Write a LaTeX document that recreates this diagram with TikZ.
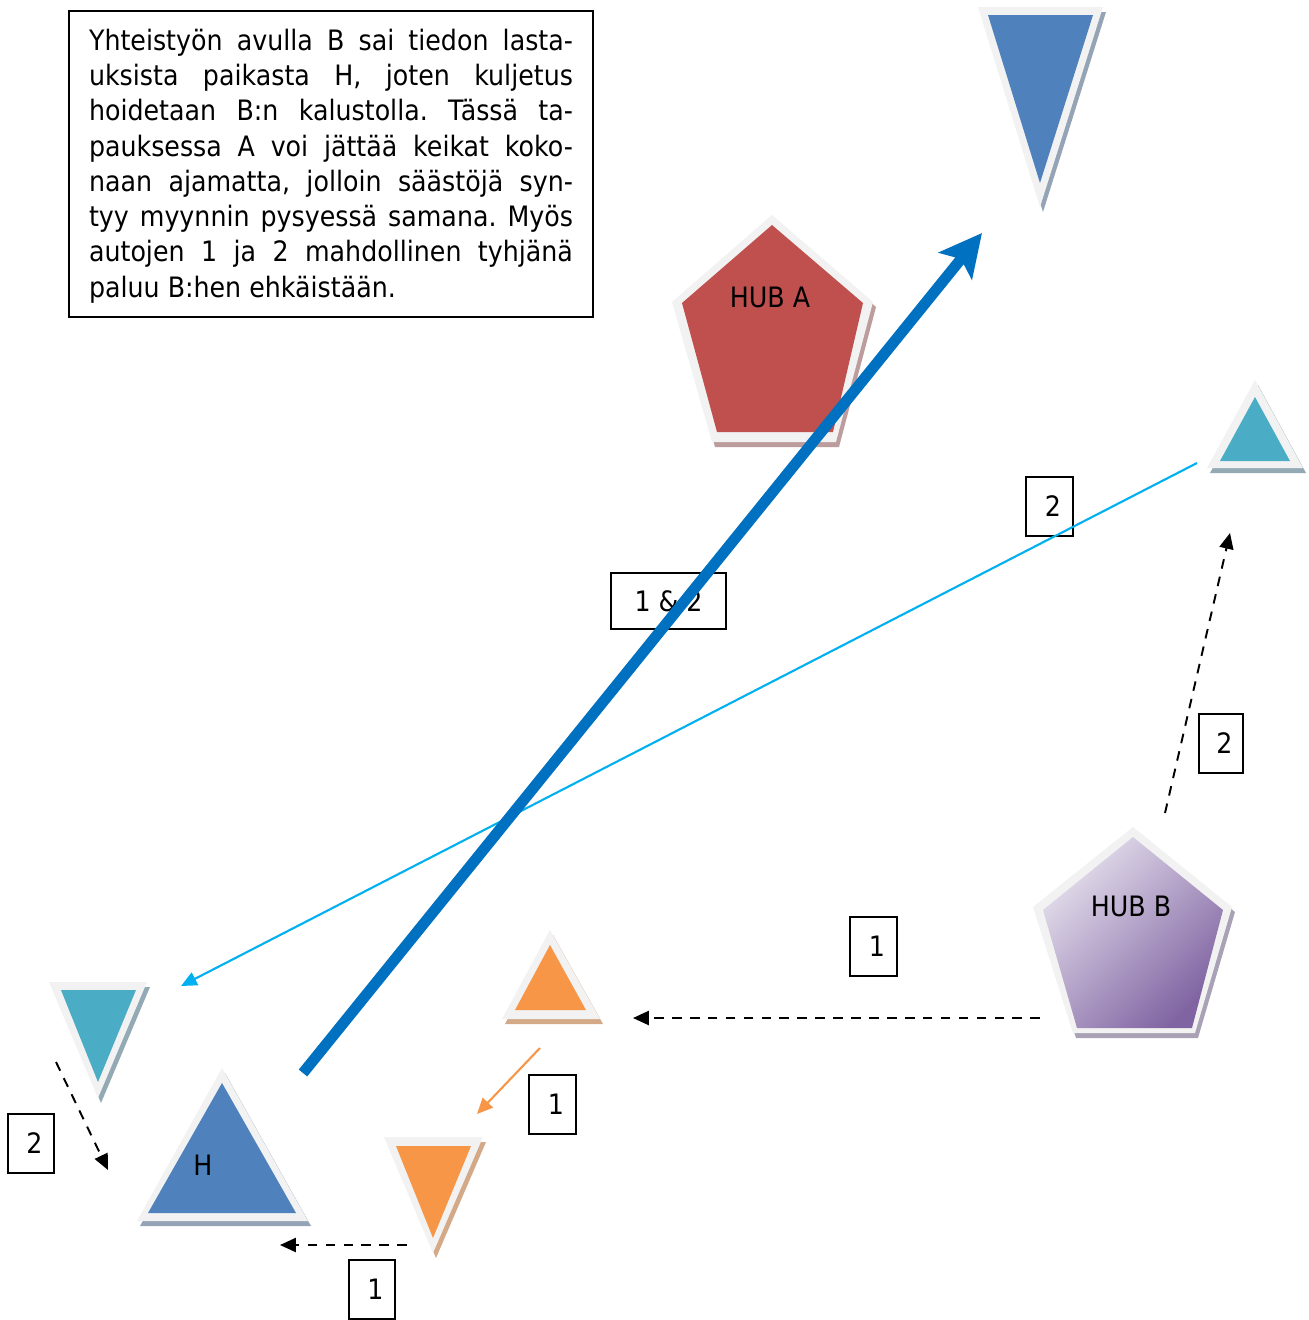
\documentclass[tikz,border=0pt]{standalone}
\usepackage{fontspec}
\setmainfont{DejaVu Sans}[FakeStretch=0.9]
\usetikzlibrary{arrows.meta}
\definecolor{rimc}{HTML}{F2F2F2}
\definecolor{blueA}{HTML}{4F81BD}
\definecolor{blueSh}{HTML}{94A4B6}
\definecolor{redA}{HTML}{C0504D}
\definecolor{redSh}{HTML}{BC9C9C}
\definecolor{tealA}{HTML}{4BACC6}
\definecolor{tealSh}{HTML}{93AAB4}
\definecolor{orA}{HTML}{F79646}
\definecolor{orSh}{HTML}{D3A988}
\definecolor{purL}{HTML}{E4DEEC}
\definecolor{purD}{HTML}{8064A2}
\definecolor{purSh}{HTML}{A9A2B6}
\definecolor{arrBlue}{HTML}{0070C0}
\definecolor{arrCyan}{HTML}{00B0F0}
\newcommand\polyshape[4]{%
  \fill[#1, shift={(3,5)}] #3 -- cycle;
  \fill[rimc] #3 -- cycle;
  \fill[#2] #4 -- cycle;
}
\newcommand\jline[1]{\hbox to 9.68cm{#1}}
\tikzset{
  lbl/.style={draw=black, line width=1pt, fill=white, font=\fontsize{16}{18}\selectfont, inner sep=0pt},
  dasharrow/.style={line width=1.1pt, dash pattern=on 5.5pt off 4.7pt, -{Triangle[length=9pt,width=8pt]}},
  shapetext/.style={font=\fontsize{16}{18}\selectfont, inner sep=0pt}
}
\begin{document}
\begin{tikzpicture}[x=0.02cm,y=-0.02cm]
\useasboundingbox (0,0) rectangle (1309,1320);
\fill[white] (0,0) rectangle (1309,1320);

% info box
\draw[line width=1.1pt] (69,11) rectangle (593,317);
\node[inner sep=0pt, font=\fontsize{16}{20.07}\selectfont] (info) at (331,166) {\vbox{%
\jline{Yhteistyön\hfil avulla\hfil B\hfil sai\hfil tiedon\hfil lasta-}
\jline{uksista\hfil paikasta\hfil H,\hfil joten\hfil kuljetus}
\jline{hoidetaan\hfil B:n\hfil kalustolla.\hfil Tässä\hfil ta-}
\jline{pauksessa\hfil A\hfil voi\hfil jättää\hfil keikat\hfil koko-}
\jline{naan\hfil ajamatta,\hfil jolloin\hfil säästöjä\hfil syn-}
\jline{tyy\hfil myynnin\hfil pysyessä\hfil samana.\hfil Myös}
\jline{autojen\hfil 1\hfil ja\hfil 2\hfil mahdollinen\hfil tyhjänä}
\jline{paluu B:hen ehkäistään.\hfil}}};

% shapes
\polyshape{blueSh}{blueA}{(978,7) -- (1103,7) -- (1040,207)}{(988,15) -- (1093,15) -- (1040,183)}
\polyshape{redSh}{redA}{(772,215) -- (873,302) -- (836,442) -- (712,442) -- (672,302)}{(772,225) -- (863,303) -- (833,432) -- (717,432) -- (682,303)}
\fill[purSh, shift={(3,5)}] (1133,827) -- (1232,907) -- (1195,1033) -- (1073,1033) -- (1033,907) -- cycle;
\fill[rimc] (1133,827) -- (1232,907) -- (1195,1033) -- (1073,1033) -- (1033,907) -- cycle;
\shade[top color=purL, bottom color=purD, shading angle=45] (1133,837) -- (1223,910) -- (1192,1028) -- (1077,1028) -- (1043,910) -- cycle;
\polyshape{tealSh}{tealA}{(1255,380) -- (1303,468) -- (1207,468)}{(1255,397) -- (1290,461) -- (1220,461)}
\polyshape{tealSh}{tealA}{(49,982) -- (147,982) -- (98,1098)}{(61,990) -- (136,990) -- (98,1082)}
\polyshape{blueSh}{blueA}{(222,1068) -- (308,1221) -- (137,1221)}{(222,1083) -- (296,1213) -- (148,1213)}
\polyshape{orSh}{orA}{(550,930) -- (600,1019) -- (502,1019)}{(550,945) -- (586,1010) -- (515,1010)}
\polyshape{orSh}{orA}{(384,1137) -- (483,1137) -- (433,1253)}{(396,1146) -- (471,1146) -- (433,1238)}

\node[shapetext] (hubA) at (770,297) {HUB A};
\node[shapetext] (hubB) at (1131,906) {HUB B};
\node[shapetext] (hH) at (203,1165) {H};

% label boxes
\node[lbl, minimum width=2.3cm, minimum height=1.12cm] (l12) at (668.5,601) {1 \& 2};
\node[lbl, minimum width=0.94cm, minimum height=1.18cm] (l2a) at (1049.5,506.5) {\hspace{4pt}2};
\node[lbl, minimum width=0.88cm, minimum height=1.18cm] (l2b) at (1221,743.5) {\hspace{4pt}2};
\node[lbl, minimum width=0.94cm, minimum height=1.18cm] (l1a) at (873.5,946.5) {\hspace{4pt}1};
\node[lbl, minimum width=0.94cm, minimum height=1.18cm] (l1b) at (552.5,1104.5) {\hspace{4pt}1};
\node[lbl, minimum width=0.92cm, minimum height=1.18cm] (l2c) at (31,1143.5) {\hspace{4pt}2};
\node[lbl, minimum width=0.92cm, minimum height=1.18cm] (l1c) at (372,1289.5) {\hspace{4pt}1};

% connector end points
\coordinate (cS) at (1197,463);
\coordinate (cE) at (181,986);
\coordinate (bS) at (303,1073);
\coordinate (bE) at (982,233);
\coordinate (d1S) at (1040,1018);
\coordinate (d1E) at (633,1018);
\coordinate (d2S) at (1165,813);
\coordinate (d2E) at (1230,533);
\coordinate (d3S) at (56,1062);
\coordinate (d3E) at (108,1170);
\coordinate (d4S) at (407,1245);
\coordinate (d4E) at (280,1245);
\coordinate (oS) at (540,1048);
\coordinate (oE) at (477,1114);

% connectors
\draw[arrCyan, line width=1.2pt, -{Triangle[length=9pt,width=8pt]}] (cS) -- (cE);
\draw[arrBlue, line width=6.2pt, -{Stealth[length=24pt,width=24pt,inset=5pt]}] (bS) -- (bE);
\draw[dasharrow] (d1S) -- (d1E);
\draw[dasharrow] (d2S) -- (d2E);
\draw[dasharrow] (d3S) -- (d3E);
\draw[dasharrow] (d4S) -- (d4E);
\draw[orA, line width=1.2pt, -{Triangle[length=9pt,width=8pt]}] (oS) -- (oE);
\end{tikzpicture}
\end{document}
